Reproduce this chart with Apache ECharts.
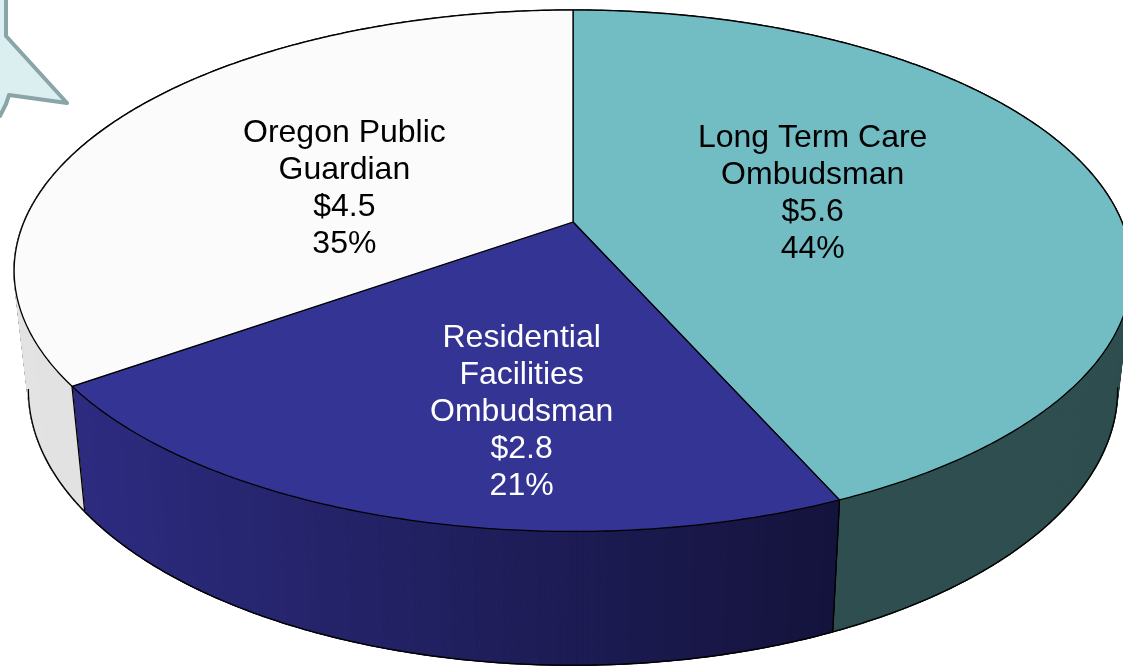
<!DOCTYPE html>
<html lang="en">
  <head>
    <meta charset="UTF-8" />
    <title>Ombudsman budget pie</title>
    <style>
      body {
        margin: 0;
        background: #ffffff;
      }
      #chart {
        width: 1123px;
        height: 666px;
      }
    </style>
  </head>
  <body>
    <div id="chart"></div>
    <script src="https://cdn.jsdelivr.net/npm/echarts@6/dist/echarts.min.js"></script>
    <script>
      // data, clockwise from 12 o'clock
      const names = ["Long Term Care\nOmbudsman", "Residential\nFacilities\nOmbudsman", "Oregon Public\nGuardian"];
      const values = [5.6, 2.8, 4.5];
      const percents = [44, 21, 35];

      // look
      const topColors = ["#72bdc4", "#343495", "#fbfbfb"];
      const sideColors = [
        ["#2e4e4f", "#2e4e4f"],
        ["#2c2b80", "#14133c"],
        ["#e3e3e3", "#d4d4d4"],
      ];
      const labelColors = ["#000000", "#ffffff", "#000000"];
      // label anchors in disk coords [x, z] (z toward viewer)
      const labelSpots = [
        [0.446, -0.115],
        [-0.082, 0.661],
        [-0.427, -0.136],
      ];

      // perspective of the disk: top face and bottom face
      const CX = 573;
      const K = 0.187;
      const faces = [
        { a: 549, cy: 222, b: 251.6 },
        { a: 535, cy: 338, b: 266 },
      ];

      const total = values.reduce((s, v) => s + v, 0);
      const starts = [];
      let acc = 0;
      values.forEach((v) => {
        starts.push(acc / total);
        acc += v;
      });

      function projXZ(x, z, lvl) {
        const f = faces[lvl];
        const w = 1 - K * z;
        return [CX + (f.a * x) / w, f.cy + (f.b * z) / w];
      }
      function proj(th, lvl) {
        return projXZ(Math.sin(th), -Math.cos(th), lvl);
      }
      function sliceAngles(i) {
        const t0 = starts[i] * Math.PI * 2;
        const t1 = (starts[i] + values[i] / total) * Math.PI * 2;
        return [t0, t1];
      }
      function arc(t0, t1, lvl, keep) {
        const n = Math.max(2, Math.ceil((t1 - t0) / (Math.PI / 360)));
        const pts = [];
        for (let k = 0; k <= n; k++) {
          const th = t0 + ((t1 - t0) * k) / n;
          if (keep && !keep(th)) continue;
          pts.push(proj(th, lvl));
        }
        return pts;
      }
      function hexToRgb(h) {
        return [1, 3, 5].map((p) => parseInt(h.substr(p, 2), 16));
      }
      function mix(c1, c2, t) {
        const a = hexToRgb(c1), b = hexToRgb(c2);
        return "rgb(" + a.map((v, k) => Math.round(v + (b[k] - v) * t)).join(",") + ")";
      }
      function hull(points) {
        const p = points.slice().sort((u, v) => u[0] - v[0] || u[1] - v[1]);
        const cross = (o, a, b) => (a[0] - o[0]) * (b[1] - o[1]) - (a[1] - o[1]) * (b[0] - o[0]);
        const lower = [], upper = [];
        p.forEach((q) => {
          while (lower.length >= 2 && cross(lower[lower.length - 2], lower[lower.length - 1], q) <= 0) lower.pop();
          lower.push(q);
        });
        p.slice().reverse().forEach((q) => {
          while (upper.length >= 2 && cross(upper[upper.length - 2], upper[upper.length - 1], q) <= 0) upper.pop();
          upper.push(q);
        });
        upper.pop();
        lower.pop();
        return lower.concat(upper);
      }

      // silhouette of the whole cake; its fill closes the thin gaps at the left and right ends of the wall
      function renderOutline() {
        const pts = arc(0, Math.PI * 2, 0).concat(arc(0, Math.PI * 2, 1));
        return {
          type: "polygon",
          shape: { points: hull(pts) },
          style: {
            fill: new echarts.graphic.LinearGradient(0, 0, 1, 0, [
              { offset: 0, color: sideColors[2][0] },
              { offset: 0.5, color: sideColors[2][1] },
              { offset: 0.5, color: sideColors[0][0] },
              { offset: 1, color: sideColors[0][1] },
            ]),
            stroke: "#000",
            lineWidth: 1.6,
          },
        };
      }

      const frontFacing = (th) => -Math.cos(th) > K - 0.01;

      function renderSide(params) {
        const i = params.dataIndex;
        const [t0, t1] = sliceAngles(i);
        const top = arc(t0, t1, 0);
        const bot = arc(t0, t1, 1);
        const xs = top.concat(bot).map((p) => p[0]);
        const xl = Math.min(...xs), xr = Math.max(...xs);
        const children = [];
        for (let k = 0; k < top.length - 1; k++) {
          const th = t0 + ((t1 - t0) * (k + 0.5)) / (top.length - 1);
          if (-Math.cos(th) < -0.3) continue;
          const t = ((top[k][0] + top[k + 1][0]) / 2 - xl) / Math.max(1, xr - xl);
          const c = mix(sideColors[i][0], sideColors[i][1], t);
          children.push({
            type: "polygon",
            shape: { points: [top[k], top[k + 1], bot[k + 1], bot[k]] },
            style: { fill: c, stroke: c, lineWidth: 1 },
          });
        }
        const rim = arc(t0, t1, 1, frontFacing);
        if (rim.length > 1) {
          children.push({
            type: "polyline",
            shape: { points: rim },
            style: { fill: "none", stroke: "#000", lineWidth: 1.3 },
          });
        }
        [t0, t1].forEach((t) => {
          if (!frontFacing(t)) return;
          const p = proj(t, 0), q = proj(t, 1);
          children.push({
            type: "line",
            shape: { x1: p[0], y1: p[1], x2: q[0], y2: q[1] },
            style: { stroke: "#000", lineWidth: 1.3 },
          });
        });
        return { type: "group", children };
      }

      function renderTop(params) {
        const i = params.dataIndex;
        const [t0, t1] = sliceAngles(i);
        const center = projXZ(0, 0, 0);
        const lp = projXZ(labelSpots[i][0], labelSpots[i][1], 0);
        return {
          type: "group",
          children: [
            {
              type: "polygon",
              shape: { points: [center].concat(arc(t0, t1, 0)) },
              style: { fill: topColors[i], stroke: "#000", lineWidth: 1.3, lineJoin: "round" },
            },
            {
              type: "text",
              x: lp[0],
              y: lp[1],
              style: {
                text: names[i] + "\n$" + values[i].toFixed(1) + "\n" + percents[i] + "%",
                fill: labelColors[i],
                font: '32px "Liberation Sans", Arial, sans-serif',
                lineHeight: 37,
                align: "center",
                verticalAlign: "middle",
              },
            },
          ],
        };
      }

      const chart = echarts.init(document.getElementById("chart"));
      chart.setOption({
        backgroundColor: "#ffffff",
        animation: false,
        series: [
          { type: "custom", coordinateSystem: "none", silent: true, z: 1, data: [0], renderItem: renderOutline },
          { type: "custom", coordinateSystem: "none", silent: true, z: 2, data: values, renderItem: renderSide },
          { type: "custom", coordinateSystem: "none", silent: true, z: 3, data: values, renderItem: renderTop },
        ],
        graphic: [
          {
            type: "polygon",
            z: 10,
            shape: {
              points: [[-20, -10], [6, -10], [6, 36], [67, 103], [9, 95], [6, 104], [0, 116], [-20, 116]],
            },
            style: { fill: "#dbeef0", stroke: "#89a5a7", lineWidth: 4, lineJoin: "round" },
          },
        ],
      });
    </script>
  </body>
</html>
